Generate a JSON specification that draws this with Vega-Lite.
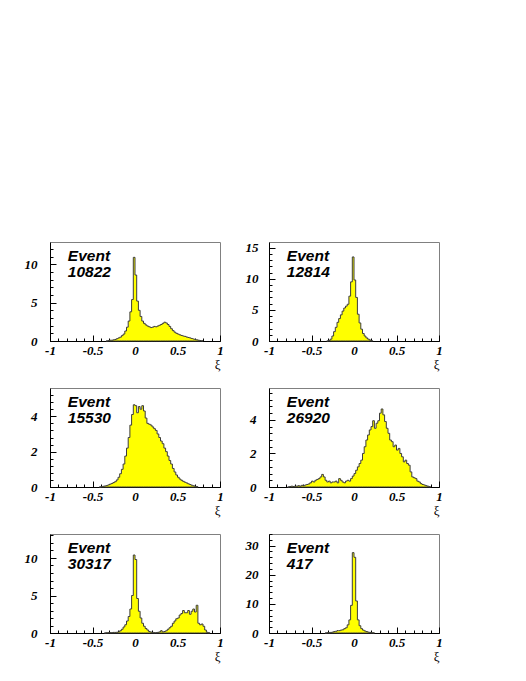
{
  "$schema": "https://vega.github.io/schema/vega-lite/v6.json",
  "background": "white",
  "padding": {"left": 23, "top": 241, "right": 5, "bottom": 5},
  "datasets": {
    "d10822": [
      {"x": -0.34, "n": 0}, {"x": -0.32, "n": 0.05}, {"x": -0.30, "n": 0.1}, {"x": -0.28, "n": 0.1}, {"x": -0.26, "n": 0.15}, {"x": -0.24, "n": 0.2}, {"x": -0.22, "n": 0.3}, {"x": -0.20, "n": 0.4}, {"x": -0.18, "n": 0.5}, {"x": -0.16, "n": 0.7}, {"x": -0.14, "n": 0.9}, {"x": -0.12, "n": 1.3}, {"x": -0.10, "n": 1.8}, {"x": -0.08, "n": 2.6}, {"x": -0.06, "n": 3.8}, {"x": -0.04, "n": 5.4}, {"x": -0.02, "n": 10.9}, {"x": 0.00, "n": 8.6}, {"x": 0.02, "n": 5.2}, {"x": 0.04, "n": 4.0}, {"x": 0.06, "n": 3.2}, {"x": 0.08, "n": 2.6}, {"x": 0.10, "n": 2.3}, {"x": 0.12, "n": 2.1}, {"x": 0.14, "n": 1.95}, {"x": 0.16, "n": 1.85}, {"x": 0.18, "n": 1.75}, {"x": 0.20, "n": 1.8}, {"x": 0.22, "n": 1.9}, {"x": 0.24, "n": 1.85}, {"x": 0.26, "n": 1.95}, {"x": 0.28, "n": 2.05}, {"x": 0.30, "n": 2.15}, {"x": 0.32, "n": 2.3}, {"x": 0.34, "n": 2.45}, {"x": 0.36, "n": 2.35}, {"x": 0.38, "n": 2.15}, {"x": 0.40, "n": 1.9}, {"x": 0.42, "n": 1.6}, {"x": 0.44, "n": 1.35}, {"x": 0.46, "n": 1.15}, {"x": 0.48, "n": 1.0}, {"x": 0.50, "n": 0.9}, {"x": 0.52, "n": 0.8}, {"x": 0.54, "n": 0.72}, {"x": 0.56, "n": 0.65}, {"x": 0.58, "n": 0.6}, {"x": 0.60, "n": 0.52}, {"x": 0.62, "n": 0.46}, {"x": 0.64, "n": 0.4}, {"x": 0.66, "n": 0.32}, {"x": 0.68, "n": 0.26}, {"x": 0.70, "n": 0.2}, {"x": 0.72, "n": 0.15}, {"x": 0.74, "n": 0.1}, {"x": 0.76, "n": 0.06}, {"x": 0.78, "n": 0.03}, {"x": 0.80, "n": 0}
    ],
    "d12814": [
      {"x": -0.32, "n": 0}, {"x": -0.30, "n": 0.1}, {"x": -0.28, "n": 0.3}, {"x": -0.26, "n": 0.8}, {"x": -0.24, "n": 1.5}, {"x": -0.22, "n": 2.2}, {"x": -0.20, "n": 3.0}, {"x": -0.18, "n": 3.6}, {"x": -0.16, "n": 4.2}, {"x": -0.14, "n": 4.8}, {"x": -0.12, "n": 5.3}, {"x": -0.10, "n": 5.6}, {"x": -0.08, "n": 5.9}, {"x": -0.06, "n": 7.2}, {"x": -0.04, "n": 9.5}, {"x": -0.02, "n": 13.5}, {"x": 0.00, "n": 9.8}, {"x": 0.02, "n": 7.0}, {"x": 0.04, "n": 4.3}, {"x": 0.06, "n": 2.9}, {"x": 0.08, "n": 1.9}, {"x": 0.10, "n": 1.2}, {"x": 0.12, "n": 0.8}, {"x": 0.14, "n": 0.5}, {"x": 0.16, "n": 0.3}, {"x": 0.18, "n": 0.15}, {"x": 0.20, "n": 0.05}, {"x": 0.22, "n": 0}
    ],
    "d15530": [
      {"x": -0.42, "n": 0}, {"x": -0.40, "n": 0.02}, {"x": -0.38, "n": 0.04}, {"x": -0.36, "n": 0.06}, {"x": -0.34, "n": 0.08}, {"x": -0.32, "n": 0.12}, {"x": -0.30, "n": 0.16}, {"x": -0.28, "n": 0.2}, {"x": -0.26, "n": 0.25}, {"x": -0.24, "n": 0.3}, {"x": -0.22, "n": 0.4}, {"x": -0.20, "n": 0.55}, {"x": -0.18, "n": 0.75}, {"x": -0.16, "n": 1.0}, {"x": -0.14, "n": 1.3}, {"x": -0.12, "n": 1.75}, {"x": -0.10, "n": 2.2}, {"x": -0.08, "n": 2.8}, {"x": -0.06, "n": 3.5}, {"x": -0.04, "n": 4.1}, {"x": -0.02, "n": 4.65}, {"x": 0.00, "n": 4.6}, {"x": 0.02, "n": 4.2}, {"x": 0.04, "n": 4.55}, {"x": 0.06, "n": 4.4}, {"x": 0.08, "n": 4.6}, {"x": 0.10, "n": 4.3}, {"x": 0.12, "n": 3.9}, {"x": 0.14, "n": 3.6}, {"x": 0.16, "n": 3.55}, {"x": 0.18, "n": 3.5}, {"x": 0.20, "n": 3.4}, {"x": 0.22, "n": 3.3}, {"x": 0.24, "n": 3.2}, {"x": 0.26, "n": 3.0}, {"x": 0.28, "n": 2.8}, {"x": 0.30, "n": 2.6}, {"x": 0.32, "n": 2.45}, {"x": 0.34, "n": 2.2}, {"x": 0.36, "n": 2.0}, {"x": 0.38, "n": 1.75}, {"x": 0.40, "n": 1.5}, {"x": 0.42, "n": 1.3}, {"x": 0.44, "n": 1.05}, {"x": 0.46, "n": 0.85}, {"x": 0.48, "n": 0.68}, {"x": 0.50, "n": 0.55}, {"x": 0.52, "n": 0.45}, {"x": 0.54, "n": 0.38}, {"x": 0.56, "n": 0.32}, {"x": 0.58, "n": 0.27}, {"x": 0.60, "n": 0.23}, {"x": 0.62, "n": 0.18}, {"x": 0.64, "n": 0.14}, {"x": 0.66, "n": 0.1}, {"x": 0.68, "n": 0.07}, {"x": 0.70, "n": 0.04}, {"x": 0.72, "n": 0.02}, {"x": 0.74, "n": 0}
    ],
    "d26920": [
      {"x": -0.78, "n": 0}, {"x": -0.76, "n": 0.03}, {"x": -0.74, "n": 0.05}, {"x": -0.72, "n": 0.03}, {"x": -0.70, "n": 0.05}, {"x": -0.68, "n": 0.05}, {"x": -0.66, "n": 0.08}, {"x": -0.64, "n": 0.05}, {"x": -0.62, "n": 0.1}, {"x": -0.60, "n": 0.08}, {"x": -0.58, "n": 0.12}, {"x": -0.56, "n": 0.15}, {"x": -0.54, "n": 0.18}, {"x": -0.52, "n": 0.25}, {"x": -0.50, "n": 0.35}, {"x": -0.48, "n": 0.3}, {"x": -0.46, "n": 0.4}, {"x": -0.44, "n": 0.45}, {"x": -0.42, "n": 0.5}, {"x": -0.40, "n": 0.6}, {"x": -0.38, "n": 0.75}, {"x": -0.36, "n": 0.6}, {"x": -0.34, "n": 0.4}, {"x": -0.32, "n": 0.3}, {"x": -0.30, "n": 0.35}, {"x": -0.28, "n": 0.25}, {"x": -0.26, "n": 0.3}, {"x": -0.24, "n": 0.3}, {"x": -0.22, "n": 0.35}, {"x": -0.20, "n": 0.25}, {"x": -0.18, "n": 0.5}, {"x": -0.16, "n": 0.4}, {"x": -0.14, "n": 0.3}, {"x": -0.12, "n": 0.25}, {"x": -0.10, "n": 0.35}, {"x": -0.08, "n": 0.4}, {"x": -0.06, "n": 0.35}, {"x": -0.04, "n": 0.5}, {"x": -0.02, "n": 0.65}, {"x": 0.00, "n": 0.8}, {"x": 0.02, "n": 1.0}, {"x": 0.04, "n": 1.2}, {"x": 0.06, "n": 1.4}, {"x": 0.08, "n": 1.6}, {"x": 0.10, "n": 2.0}, {"x": 0.12, "n": 2.4}, {"x": 0.14, "n": 2.8}, {"x": 0.16, "n": 3.1}, {"x": 0.18, "n": 3.4}, {"x": 0.20, "n": 3.6}, {"x": 0.22, "n": 3.95}, {"x": 0.24, "n": 3.5}, {"x": 0.26, "n": 3.8}, {"x": 0.28, "n": 3.95}, {"x": 0.30, "n": 4.4}, {"x": 0.32, "n": 4.65}, {"x": 0.34, "n": 4.3}, {"x": 0.36, "n": 3.9}, {"x": 0.38, "n": 3.5}, {"x": 0.40, "n": 3.2}, {"x": 0.42, "n": 2.8}, {"x": 0.44, "n": 2.7}, {"x": 0.46, "n": 2.4}, {"x": 0.48, "n": 2.5}, {"x": 0.50, "n": 2.2}, {"x": 0.52, "n": 2.3}, {"x": 0.54, "n": 2.0}, {"x": 0.56, "n": 1.8}, {"x": 0.58, "n": 1.5}, {"x": 0.60, "n": 1.6}, {"x": 0.62, "n": 1.4}, {"x": 0.64, "n": 1.3}, {"x": 0.66, "n": 0.9}, {"x": 0.68, "n": 0.6}, {"x": 0.70, "n": 0.55}, {"x": 0.72, "n": 0.5}, {"x": 0.74, "n": 0.35}, {"x": 0.76, "n": 0.3}, {"x": 0.78, "n": 0.2}, {"x": 0.80, "n": 0.15}, {"x": 0.82, "n": 0.12}, {"x": 0.84, "n": 0.08}, {"x": 0.86, "n": 0.05}, {"x": 0.88, "n": 0.02}, {"x": 0.90, "n": 0}
    ],
    "d30317": [
      {"x": -0.36, "n": 0}, {"x": -0.34, "n": 0.03}, {"x": -0.32, "n": 0.05}, {"x": -0.30, "n": 0.05}, {"x": -0.28, "n": 0.05}, {"x": -0.26, "n": 0.08}, {"x": -0.24, "n": 0.08}, {"x": -0.22, "n": 0.1}, {"x": -0.20, "n": 0.15}, {"x": -0.18, "n": 0.3}, {"x": -0.16, "n": 0.5}, {"x": -0.14, "n": 0.8}, {"x": -0.12, "n": 1.1}, {"x": -0.10, "n": 1.6}, {"x": -0.08, "n": 2.2}, {"x": -0.06, "n": 3.2}, {"x": -0.04, "n": 5.0}, {"x": -0.02, "n": 10.4}, {"x": 0.00, "n": 9.8}, {"x": 0.02, "n": 4.6}, {"x": 0.04, "n": 2.9}, {"x": 0.06, "n": 2.0}, {"x": 0.08, "n": 1.3}, {"x": 0.10, "n": 0.9}, {"x": 0.12, "n": 0.6}, {"x": 0.14, "n": 0.4}, {"x": 0.16, "n": 0.2}, {"x": 0.18, "n": 0.12}, {"x": 0.20, "n": 0.08}, {"x": 0.22, "n": 0.05}, {"x": 0.24, "n": 0.05}, {"x": 0.26, "n": 0.08}, {"x": 0.28, "n": 0.15}, {"x": 0.30, "n": 0.3}, {"x": 0.32, "n": 0.15}, {"x": 0.34, "n": 0.2}, {"x": 0.36, "n": 0.3}, {"x": 0.38, "n": 0.5}, {"x": 0.40, "n": 0.7}, {"x": 0.42, "n": 0.9}, {"x": 0.44, "n": 1.3}, {"x": 0.46, "n": 1.6}, {"x": 0.48, "n": 1.9}, {"x": 0.50, "n": 2.0}, {"x": 0.52, "n": 2.4}, {"x": 0.54, "n": 2.6}, {"x": 0.56, "n": 3.0}, {"x": 0.58, "n": 2.7}, {"x": 0.60, "n": 2.7}, {"x": 0.62, "n": 3.0}, {"x": 0.64, "n": 2.5}, {"x": 0.66, "n": 2.9}, {"x": 0.68, "n": 3.2}, {"x": 0.70, "n": 2.8}, {"x": 0.72, "n": 3.7}, {"x": 0.74, "n": 1.3}, {"x": 0.76, "n": 1.1}, {"x": 0.78, "n": 1.2}, {"x": 0.80, "n": 0.9}, {"x": 0.82, "n": 0.4}, {"x": 0.84, "n": 0.1}, {"x": 0.86, "n": 0.03}, {"x": 0.88, "n": 0}
    ],
    "d417": [
      {"x": -0.34, "n": 0}, {"x": -0.32, "n": 0.1}, {"x": -0.30, "n": 0.1}, {"x": -0.28, "n": 0.2}, {"x": -0.26, "n": 0.3}, {"x": -0.24, "n": 0.5}, {"x": -0.22, "n": 0.6}, {"x": -0.20, "n": 0.8}, {"x": -0.18, "n": 0.8}, {"x": -0.16, "n": 1.0}, {"x": -0.14, "n": 1.1}, {"x": -0.12, "n": 1.5}, {"x": -0.10, "n": 1.8}, {"x": -0.08, "n": 2.8}, {"x": -0.06, "n": 4.5}, {"x": -0.04, "n": 9.5}, {"x": -0.02, "n": 27.6}, {"x": 0.00, "n": 26.0}, {"x": 0.02, "n": 11.0}, {"x": 0.04, "n": 4.5}, {"x": 0.06, "n": 2.5}, {"x": 0.08, "n": 1.5}, {"x": 0.10, "n": 1.0}, {"x": 0.12, "n": 0.7}, {"x": 0.14, "n": 0.5}, {"x": 0.16, "n": 0.3}, {"x": 0.18, "n": 0.2}, {"x": 0.20, "n": 0.1}, {"x": 0.22, "n": 0.05}, {"x": 0.24, "n": 0}
    ]
  },
  "columns": 2,
  "spacing": {"row": 47, "column": 49},
  "bounds": "flush",
  "concat": [
    {
      "width": 170, "height": 99,
      "layer": [
        {"data": {"name": "d10822"},
         "mark": {"type": "area", "interpolate": "step-after", "fill": "#ffff00", "fillOpacity": 1, "stroke": "#3c3c3c", "strokeWidth": 1},
         "encoding": {
           "x": {"field": "x", "type": "quantitative", "scale": {"domain": [-1, 1], "nice": false, "zero": false},
                 "axis": {"orient": "bottom", "values": [-1, -0.5, 0, 0.5, 1], "labelExpr": "'' + datum.value", "tickSize": -6, "labelPadding": 9, "title": "ξ", "titleAnchor": "end"}},
           "y": {"field": "n", "type": "quantitative", "scale": {"domain": [0, 12.9], "nice": false},
                 "axis": {"orient": "left", "values": [0, 5, 10], "labelExpr": "'' + datum.value", "tickSize": -6, "labelPadding": 19, "title": null}}
         }},
        {"data": {"values": [{"label": "Event"}]},
         "mark": {"type": "text", "align": "left", "baseline": "alphabetic", "font": "Liberation Sans", "fontSize": 15.5, "fontStyle": "italic", "fontWeight": "bold", "color": "#000000"},
         "encoding": {
           "x": {"datum": -0.79, "type": "quantitative", "axis": {"orient": "bottom", "values": [-1, -0.9, -0.8, -0.7, -0.6, -0.5, -0.4, -0.3, -0.2, -0.1, 0, 0.1, 0.2, 0.3, 0.4, 0.5, 0.6, 0.7, 0.8, 0.9, 1], "tickSize": -3, "labels": false, "domain": false, "title": null}},
           "y": {"datum": 10.38, "type": "quantitative", "axis": {"orient": "left", "values": [0, 1, 2, 3, 4, 5, 6, 7, 8, 9, 10, 11, 12], "tickSize": -3, "labels": false, "domain": false, "title": null}},
           "text": {"field": "label"}
         }},
        {"data": {"values": [{"label": "10822"}]},
         "mark": {"type": "text", "align": "left", "baseline": "alphabetic", "dy": 16, "font": "Liberation Sans", "fontSize": 15.5, "fontStyle": "italic", "fontWeight": "bold", "color": "#000000"},
         "encoding": {
           "x": {"datum": -0.79, "type": "quantitative", "axis": null},
           "y": {"datum": 10.38, "type": "quantitative", "axis": null},
           "text": {"field": "label"}
         }}
      ],
      "resolve": {"axis": {"x": "independent", "y": "independent"}}
    },
    {
      "width": 170, "height": 99,
      "layer": [
        {"data": {"name": "d12814"},
         "mark": {"type": "area", "interpolate": "step-after", "fill": "#ffff00", "fillOpacity": 1, "stroke": "#3c3c3c", "strokeWidth": 1},
         "encoding": {
           "x": {"field": "x", "type": "quantitative", "scale": {"domain": [-1, 1], "nice": false, "zero": false},
                 "axis": {"orient": "bottom", "values": [-1, -0.5, 0, 0.5, 1], "labelExpr": "'' + datum.value", "tickSize": -6, "labelPadding": 9, "title": "ξ", "titleAnchor": "end"}},
           "y": {"field": "n", "type": "quantitative", "scale": {"domain": [0, 15.9], "nice": false},
                 "axis": {"orient": "left", "values": [0, 5, 10, 15], "labelExpr": "'' + datum.value", "tickSize": -6, "labelPadding": 17, "title": null}}
         }},
        {"data": {"values": [{"label": "Event"}]},
         "mark": {"type": "text", "align": "left", "baseline": "alphabetic", "font": "Liberation Sans", "fontSize": 15.5, "fontStyle": "italic", "fontWeight": "bold", "color": "#000000"},
         "encoding": {
           "x": {"datum": -0.79, "type": "quantitative", "axis": {"orient": "bottom", "values": [-1, -0.9, -0.8, -0.7, -0.6, -0.5, -0.4, -0.3, -0.2, -0.1, 0, 0.1, 0.2, 0.3, 0.4, 0.5, 0.6, 0.7, 0.8, 0.9, 1], "tickSize": -3, "labels": false, "domain": false, "title": null}},
           "y": {"datum": 12.8, "type": "quantitative", "axis": {"orient": "left", "values": [0, 1, 2, 3, 4, 5, 6, 7, 8, 9, 10, 11, 12, 13, 14, 15], "tickSize": -3, "labels": false, "domain": false, "title": null}},
           "text": {"field": "label"}
         }},
        {"data": {"values": [{"label": "12814"}]},
         "mark": {"type": "text", "align": "left", "baseline": "alphabetic", "dy": 16, "font": "Liberation Sans", "fontSize": 15.5, "fontStyle": "italic", "fontWeight": "bold", "color": "#000000"},
         "encoding": {
           "x": {"datum": -0.79, "type": "quantitative", "axis": null},
           "y": {"datum": 12.8, "type": "quantitative", "axis": null},
           "text": {"field": "label"}
         }}
      ],
      "resolve": {"axis": {"x": "independent", "y": "independent"}}
    },
    {
      "width": 170, "height": 99,
      "layer": [
        {"data": {"name": "d15530"},
         "mark": {"type": "area", "interpolate": "step-after", "fill": "#ffff00", "fillOpacity": 1, "stroke": "#3c3c3c", "strokeWidth": 1},
         "encoding": {
           "x": {"field": "x", "type": "quantitative", "scale": {"domain": [-1, 1], "nice": false, "zero": false},
                 "axis": {"orient": "bottom", "values": [-1, -0.5, 0, 0.5, 1], "labelExpr": "'' + datum.value", "tickSize": -6, "labelPadding": 9, "title": "ξ", "titleAnchor": "end"}},
           "y": {"field": "n", "type": "quantitative", "scale": {"domain": [0, 5.6], "nice": false},
                 "axis": {"orient": "left", "values": [0, 2, 4], "labelExpr": "'' + datum.value", "tickSize": -6, "labelPadding": 19, "title": null}}
         }},
        {"data": {"values": [{"label": "Event"}]},
         "mark": {"type": "text", "align": "left", "baseline": "alphabetic", "font": "Liberation Sans", "fontSize": 15.5, "fontStyle": "italic", "fontWeight": "bold", "color": "#000000"},
         "encoding": {
           "x": {"datum": -0.79, "type": "quantitative", "axis": {"orient": "bottom", "values": [-1, -0.9, -0.8, -0.7, -0.6, -0.5, -0.4, -0.3, -0.2, -0.1, 0, 0.1, 0.2, 0.3, 0.4, 0.5, 0.6, 0.7, 0.8, 0.9, 1], "tickSize": -3, "labels": false, "domain": false, "title": null}},
           "y": {"datum": 4.51, "type": "quantitative", "axis": {"orient": "left", "values": [0, 0.4, 0.8, 1.2, 1.6, 2, 2.4, 2.8, 3.2, 3.6, 4, 4.4, 4.8, 5.2], "tickSize": -3, "labels": false, "domain": false, "title": null}},
           "text": {"field": "label"}
         }},
        {"data": {"values": [{"label": "15530"}]},
         "mark": {"type": "text", "align": "left", "baseline": "alphabetic", "dy": 16, "font": "Liberation Sans", "fontSize": 15.5, "fontStyle": "italic", "fontWeight": "bold", "color": "#000000"},
         "encoding": {
           "x": {"datum": -0.79, "type": "quantitative", "axis": null},
           "y": {"datum": 4.51, "type": "quantitative", "axis": null},
           "text": {"field": "label"}
         }}
      ],
      "resolve": {"axis": {"x": "independent", "y": "independent"}}
    },
    {
      "width": 170, "height": 99,
      "layer": [
        {"data": {"name": "d26920"},
         "mark": {"type": "area", "interpolate": "step-after", "fill": "#ffff00", "fillOpacity": 1, "stroke": "#3c3c3c", "strokeWidth": 1},
         "encoding": {
           "x": {"field": "x", "type": "quantitative", "scale": {"domain": [-1, 1], "nice": false, "zero": false},
                 "axis": {"orient": "bottom", "values": [-1, -0.5, 0, 0.5, 1], "labelExpr": "'' + datum.value", "tickSize": -6, "labelPadding": 9, "title": "ξ", "titleAnchor": "end"}},
           "y": {"field": "n", "type": "quantitative", "scale": {"domain": [0, 5.9], "nice": false},
                 "axis": {"orient": "left", "values": [0, 2, 4], "labelExpr": "'' + datum.value", "tickSize": -6, "labelPadding": 19, "title": null}}
         }},
        {"data": {"values": [{"label": "Event"}]},
         "mark": {"type": "text", "align": "left", "baseline": "alphabetic", "font": "Liberation Sans", "fontSize": 15.5, "fontStyle": "italic", "fontWeight": "bold", "color": "#000000"},
         "encoding": {
           "x": {"datum": -0.79, "type": "quantitative", "axis": {"orient": "bottom", "values": [-1, -0.9, -0.8, -0.7, -0.6, -0.5, -0.4, -0.3, -0.2, -0.1, 0, 0.1, 0.2, 0.3, 0.4, 0.5, 0.6, 0.7, 0.8, 0.9, 1], "tickSize": -3, "labels": false, "domain": false, "title": null}},
           "y": {"datum": 4.75, "type": "quantitative", "axis": {"orient": "left", "values": [0, 0.4, 0.8, 1.2, 1.6, 2, 2.4, 2.8, 3.2, 3.6, 4, 4.4, 4.8, 5.2, 5.6], "tickSize": -3, "labels": false, "domain": false, "title": null}},
           "text": {"field": "label"}
         }},
        {"data": {"values": [{"label": "26920"}]},
         "mark": {"type": "text", "align": "left", "baseline": "alphabetic", "dy": 16, "font": "Liberation Sans", "fontSize": 15.5, "fontStyle": "italic", "fontWeight": "bold", "color": "#000000"},
         "encoding": {
           "x": {"datum": -0.79, "type": "quantitative", "axis": null},
           "y": {"datum": 4.75, "type": "quantitative", "axis": null},
           "text": {"field": "label"}
         }}
      ],
      "resolve": {"axis": {"x": "independent", "y": "independent"}}
    },
    {
      "width": 170, "height": 99,
      "layer": [
        {"data": {"name": "d30317"},
         "mark": {"type": "area", "interpolate": "step-after", "fill": "#ffff00", "fillOpacity": 1, "stroke": "#3c3c3c", "strokeWidth": 1},
         "encoding": {
           "x": {"field": "x", "type": "quantitative", "scale": {"domain": [-1, 1], "nice": false, "zero": false},
                 "axis": {"orient": "bottom", "values": [-1, -0.5, 0, 0.5, 1], "labelExpr": "'' + datum.value", "tickSize": -6, "labelPadding": 9, "title": "ξ", "titleAnchor": "end"}},
           "y": {"field": "n", "type": "quantitative", "scale": {"domain": [0, 13.2], "nice": false},
                 "axis": {"orient": "left", "values": [0, 5, 10], "labelExpr": "'' + datum.value", "tickSize": -6, "labelPadding": 19, "title": null}}
         }},
        {"data": {"values": [{"label": "Event"}]},
         "mark": {"type": "text", "align": "left", "baseline": "alphabetic", "font": "Liberation Sans", "fontSize": 15.5, "fontStyle": "italic", "fontWeight": "bold", "color": "#000000"},
         "encoding": {
           "x": {"datum": -0.79, "type": "quantitative", "axis": {"orient": "bottom", "values": [-1, -0.9, -0.8, -0.7, -0.6, -0.5, -0.4, -0.3, -0.2, -0.1, 0, 0.1, 0.2, 0.3, 0.4, 0.5, 0.6, 0.7, 0.8, 0.9, 1], "tickSize": -3, "labels": false, "domain": false, "title": null}},
           "y": {"datum": 10.63, "type": "quantitative", "axis": {"orient": "left", "values": [0, 1, 2, 3, 4, 5, 6, 7, 8, 9, 10, 11, 12, 13], "tickSize": -3, "labels": false, "domain": false, "title": null}},
           "text": {"field": "label"}
         }},
        {"data": {"values": [{"label": "30317"}]},
         "mark": {"type": "text", "align": "left", "baseline": "alphabetic", "dy": 16, "font": "Liberation Sans", "fontSize": 15.5, "fontStyle": "italic", "fontWeight": "bold", "color": "#000000"},
         "encoding": {
           "x": {"datum": -0.79, "type": "quantitative", "axis": null},
           "y": {"datum": 10.63, "type": "quantitative", "axis": null},
           "text": {"field": "label"}
         }}
      ],
      "resolve": {"axis": {"x": "independent", "y": "independent"}}
    },
    {
      "width": 170, "height": 99,
      "layer": [
        {"data": {"name": "d417"},
         "mark": {"type": "area", "interpolate": "step-after", "fill": "#ffff00", "fillOpacity": 1, "stroke": "#3c3c3c", "strokeWidth": 1},
         "encoding": {
           "x": {"field": "x", "type": "quantitative", "scale": {"domain": [-1, 1], "nice": false, "zero": false},
                 "axis": {"orient": "bottom", "values": [-1, -0.5, 0, 0.5, 1], "labelExpr": "'' + datum.value", "tickSize": -6, "labelPadding": 9, "title": "ξ", "titleAnchor": "end"}},
           "y": {"field": "n", "type": "quantitative", "scale": {"domain": [0, 34], "nice": false},
                 "axis": {"orient": "left", "values": [0, 10, 20, 30], "labelExpr": "'' + datum.value", "tickSize": -6, "labelPadding": 17, "title": null}}
         }},
        {"data": {"values": [{"label": "Event"}]},
         "mark": {"type": "text", "align": "left", "baseline": "alphabetic", "font": "Liberation Sans", "fontSize": 15.5, "fontStyle": "italic", "fontWeight": "bold", "color": "#000000"},
         "encoding": {
           "x": {"datum": -0.79, "type": "quantitative", "axis": {"orient": "bottom", "values": [-1, -0.9, -0.8, -0.7, -0.6, -0.5, -0.4, -0.3, -0.2, -0.1, 0, 0.1, 0.2, 0.3, 0.4, 0.5, 0.6, 0.7, 0.8, 0.9, 1], "tickSize": -3, "labels": false, "domain": false, "title": null}},
           "y": {"datum": 27.4, "type": "quantitative", "axis": {"orient": "left", "values": [0, 2, 4, 6, 8, 10, 12, 14, 16, 18, 20, 22, 24, 26, 28, 30, 32, 34], "tickSize": -3, "labels": false, "domain": false, "title": null}},
           "text": {"field": "label"}
         }},
        {"data": {"values": [{"label": "417"}]},
         "mark": {"type": "text", "align": "left", "baseline": "alphabetic", "dy": 16, "font": "Liberation Sans", "fontSize": 15.5, "fontStyle": "italic", "fontWeight": "bold", "color": "#000000"},
         "encoding": {
           "x": {"datum": -0.79, "type": "quantitative", "axis": null},
           "y": {"datum": 27.4, "type": "quantitative", "axis": null},
           "text": {"field": "label"}
         }}
      ],
      "resolve": {"axis": {"x": "independent", "y": "independent"}}
    }
  ],
  "config": {
    "view": {"stroke": "#808080", "strokeWidth": 1},
    "axis": {
      "grid": false,
      "labelFlush": false,
      "labelOverlap": false,
      "labelFont": "Liberation Serif",
      "labelFontSize": 13,
      "labelFontStyle": "italic",
      "labelFontWeight": "bold",
      "labelColor": "#000000",
      "domainColor": "#000000",
      "domainWidth": 1,
      "tickColor": "#000000",
      "tickWidth": 1,
      "titleFont": "Liberation Serif",
      "titleFontSize": 13,
      "titleFontWeight": "normal",
      "titleColor": "#000000",
      "titlePadding": 1
    }
  }
}
